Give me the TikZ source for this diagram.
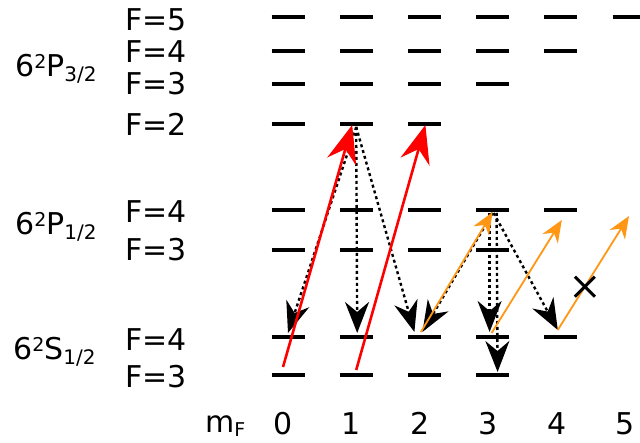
\documentclass[tikz,border=0pt]{standalone}
\usepackage{fontspec}
\setmainfont{DejaVu Sans}
\usetikzlibrary{arrows.meta, calc}
\definecolor{pumpred}{RGB}{255,0,0}
\definecolor{repump}{RGB}{255,150,20}
\newcommand{\term}[2]{6\raisebox{8.5pt}{\fontsize{19pt}{19pt}\selectfont 2}#1\raisebox{-5pt}{\fontsize{20pt}{20pt}\selectfont #2}}

\begin{document}
\begin{tikzpicture}[
    x=1pt, y=-1pt,
    every node/.style={font=\fontsize{30pt}{34pt}\selectfont, inner sep=0pt},
    level/.style={line width=3.6pt},
    pump/.style={pumpred, line width=2.6pt, -{Stealth[length=38pt, width=30pt, inset=13pt]}},
    repumper/.style={repump, line width=1.8pt, -{Stealth[length=22pt, width=18pt, inset=7pt]}},
    decay/.style={line width=2.4pt, dash pattern=on 3pt off 3pt, -{Stealth[length=31pt, width=24pt, inset=10pt]}},
]
\useasboundingbox (0,0) rectangle (640,443);
% hyperfine sublevels: name / F / height / label height
\foreach \lv/\F/\y/\ly in {aF5/5/17/20, aF4/4/51/52, aF3/3/84/84, aF2/2/124/124,
                           bF4/4/210/212, bF3/3/250/250, gF4/4/337/340, gF3/3/375/377} {
  \foreach \m in {0,...,5}
    \coordinate (\lv m\m) at (288+68.2*\m,\y);
  \foreach \m in {0,...,\F}
    \draw[level] ($(\lv m\m)+(-16.5,0)$) -- ($(\lv m\m)+(16.5,0)$);
  \node[anchor=west] (lb\lv) at (125,\ly) {F=\F};
}
% fine structure terms
\node[anchor=base west] (p32) at (15,77) {\term{P}{3/2}};
\node[anchor=base west] (p12) at (15,235) {\term{P}{1/2}};
\node[anchor=base west] (s12) at (13,360) {\term{S}{1/2}};
% m_F axis
\node[anchor=base west] (mf) at (205,432) {m\raisebox{-4pt}{\fontsize{19pt}{19pt}\selectfont F}};
\foreach \m in {0,...,5}
  \node[anchor=base] (mf\m) at (283+68.4*\m,435) {\m};
% spontaneous decay from F'=2, mF=1
\foreach \t/\dx/\dy in {gF4m0/0/-4, gF4m1/1/-4, gF4m2/-10/-5}
  \draw[decay] ($(aF2m1)+(0,3)$) -- ($(\t)+(\dx,\dy)$);
% spontaneous decay from P1/2 F'=4, mF=3
\draw[decay] ($(bF4m3)+(0,3)$) -- ($(gF4m2)+(-2,-5)$);
\draw[decay] ($(bF4m3)+(-3,3)$) -- ($(gF4m3)+(-3,-5)$);
\draw[decay] ($(bF4m3)+(4,3)$) -- ($(gF3m3)+(5,-3)$);
\draw[decay] ($(bF4m3)+(1,3)$) -- ($(gF4m4)+(-3,-7)$);
% pump (red)
\draw[pump] ($(gF3m0)+(-5,-8)$) -- ($(aF2m1)+(-4,1)$);
\draw[pump] ($(gF3m1)+(0,-5)$) -- ($(aF2m2)+(1,1)$);
% repumper (orange)
\draw[repumper] ($(gF4m2)+(-3.5,-5)$) -- ($(bF4m3)+(0,2)$);
\draw[repumper] ($(gF4m3)+(-1,-4)$) -- ($(bF4m4)+(1,10)$);
\draw[repumper] ($(gF4m4)+(-3,-7)$) -- ($(bF4m5)+(0,6)$) coordinate[pos=0.38] (blk);
% no level to reach
\draw[line width=3pt] ($(blk)+(-10,-10)$) -- ($(blk)+(10,10)$)
                      ($(blk)+(-10,10)$) -- ($(blk)+(10,-10)$);
\end{tikzpicture}
\end{document}
